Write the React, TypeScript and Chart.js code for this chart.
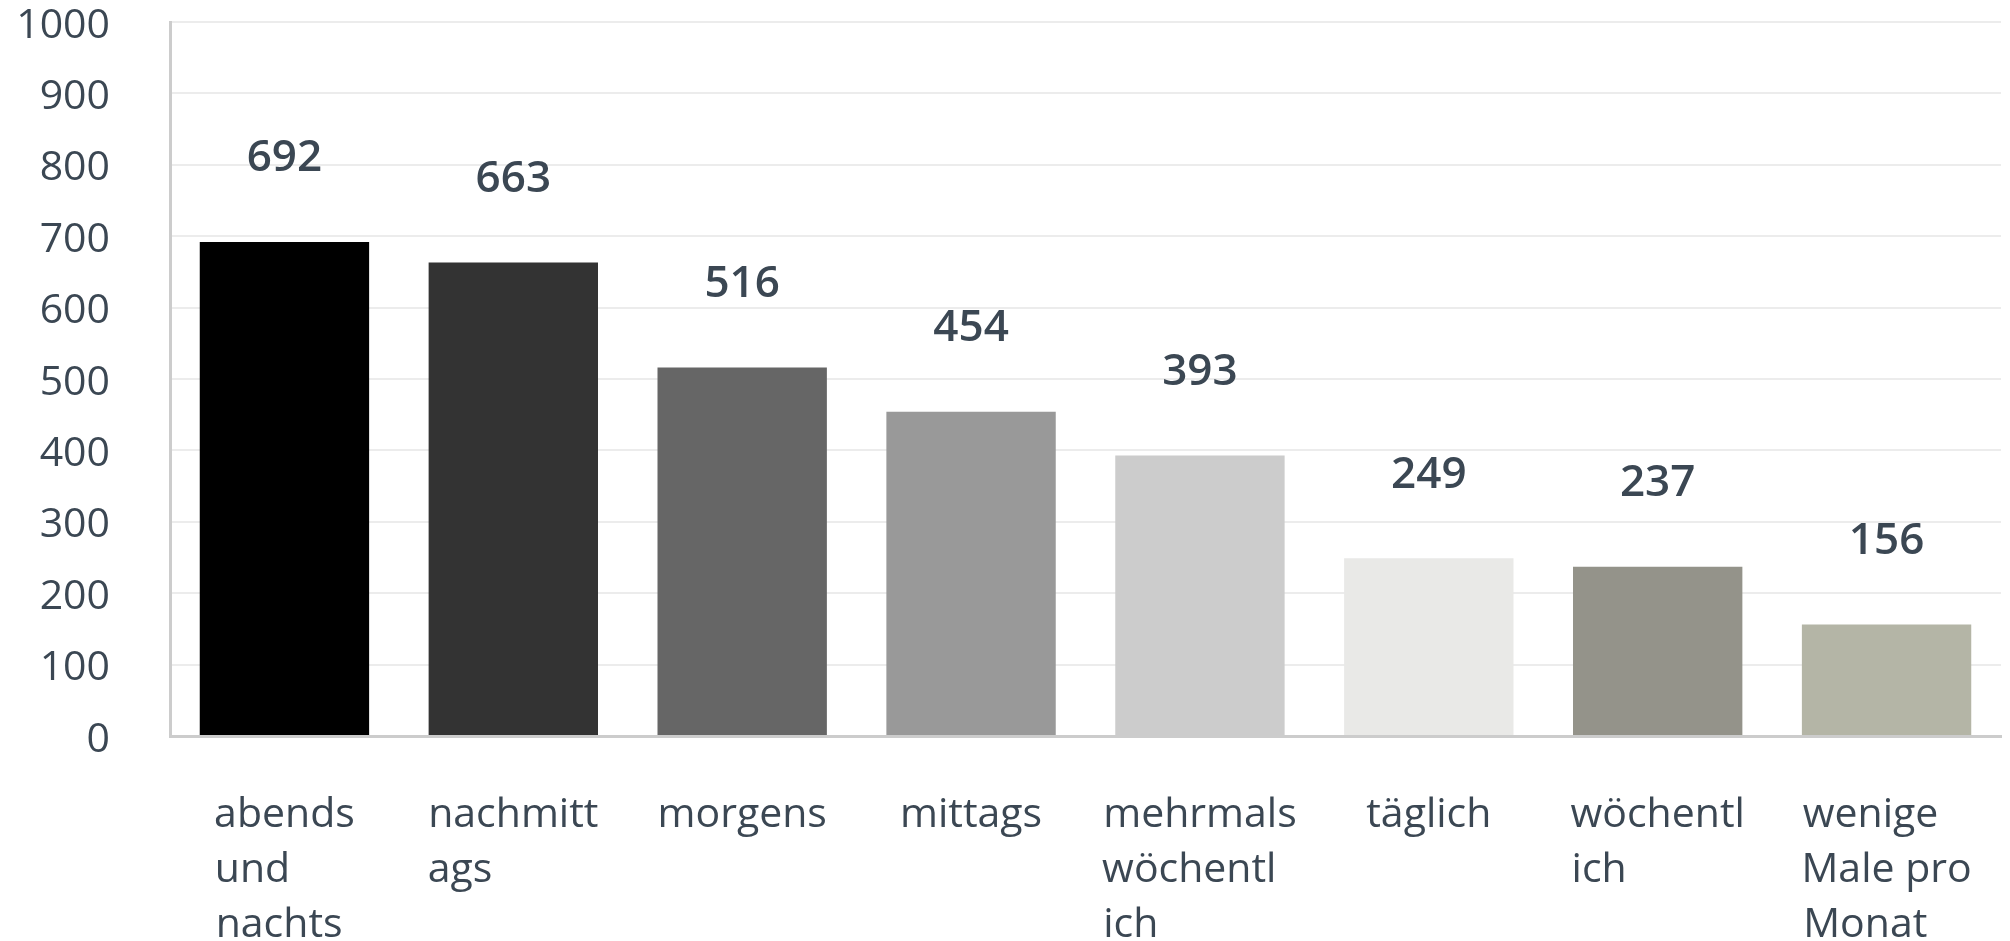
import React, { useEffect, useRef } from "react";
import { Chart, registerables } from "chart.js";

Chart.register(...registerables);

const categories: string[][] = [
  ["abends", "und", "nachts"],
  ["nachmitt", "ags"],
  ["morgens"],
  ["mittags"],
  ["mehrmals", "wöchentl", "ich"],
  ["täglich"],
  ["wöchentl", "ich"],
  ["wenige", "Male pro", "Monat"],
];
const values: number[] = [692, 663, 516, 454, 393, 249, 237, 156];
const barColors: string[] = [
  "#000000",
  "#333333",
  "#666666",
  "#999999",
  "#cccccc",
  "#e9e9e7",
  "#94938a",
  "#b4b5a6",
];
const yMin = 0;
const yMax = 1000;
const yStep = 100;

const TEXT = "#3b4753";
const FONT = '"Open Sans", sans-serif';
const TICK_SIZE = 41;

// left-align the lines of a wrapped label inside a centred block
function padLines(lines: string[]): string[] {
  const c = document.createElement("canvas").getContext("2d");
  if (!c || lines.length < 2) return lines;
  c.font = `${TICK_SIZE}px ${FONT}`;
  const sp = c.measureText(" ").width;
  const widths = lines.map((l) => c.measureText(l).width);
  const maxW = Math.max(...widths);
  return lines.map((l, i) => l + " ".repeat(Math.max(0, Math.round((maxW - widths[i]) / sp))));
}

const valueLabels = {
  id: "valueLabels",
  afterDatasetsDraw(chart: any) {
    const ctx = chart.ctx;
    const meta = chart.getDatasetMeta(0);
    const yScale = chart.scales.y;
    ctx.save();
    ctx.font = `600 44px ${FONT}`;
    ctx.fillStyle = TEXT;
    ctx.textAlign = "center";
    ctx.textBaseline = "middle";
    meta.data.forEach((el: any, i: number) => {
      const v = chart.data.datasets[0].data[i];
      ctx.fillText(String(v), el.x, yScale.getPixelForValue(v) - 83);
    });
    ctx.restore();
  },
};

export default function App() {
  const ref = useRef<HTMLCanvasElement | null>(null);
  useEffect(() => {
    if (!ref.current) return;
    const chart = new Chart(ref.current, {
      type: "bar",
      data: {
        labels: categories,
        datasets: [
          {
            data: values,
            backgroundColor: barColors,
            borderWidth: 0,
            barPercentage: 1,
            categoryPercentage: 0.74,
          },
        ],
      },
      options: {
        animation: false,
        responsive: false,
        devicePixelRatio: 1,
        layout: { padding: { left: 0, top: 22, right: 9, bottom: 0 } },
        plugins: {
          legend: { display: false },
          tooltip: { enabled: false },
          title: { display: false },
        },
        scales: {
          x: {
            offset: true,
            grid: { display: false, drawTicks: false },
            border: { display: true, color: "#cccccc", width: 3 },
            ticks: {
              color: TEXT,
              font: { family: FONT, size: TICK_SIZE, lineHeight: 1.34 },
              padding: 52,
              maxRotation: 0,
              minRotation: 0,
              autoSkip: false,
              callback: (_v: any, i: number) => padLines(categories[i]),
            },
            afterFit: (s: any) => {
              s.height = 205;
              s.paddingLeft = 0;
              s.paddingRight = 0;
            },
          },
          y: {
            min: yMin,
            max: yMax,
            grid: { color: "#ececec", lineWidth: 2, drawTicks: false },
            border: { display: true, color: "#cccccc", width: 3 },
            ticks: {
              stepSize: yStep,
              color: TEXT,
              font: { family: FONT, size: TICK_SIZE },
              padding: 60,
              labelOffset: 4,
              callback: (v: any) => String(v),
            },
            afterFit: (s: any) => {
              s.width = 170;
              s.paddingTop = 0;
              s.paddingBottom = 0;
            },
          },
        },
      },
      plugins: [valueLabels],
    } as any);
    return () => chart.destroy();
  }, []);
  return (
    <div
      style={{
        position: "absolute",
        left: 0,
        top: 0,
        width: 2010,
        height: 941,
        background: "#ffffff",
      }}
    >
      <canvas ref={ref} width={2010} height={941} />
    </div>
  );
}
